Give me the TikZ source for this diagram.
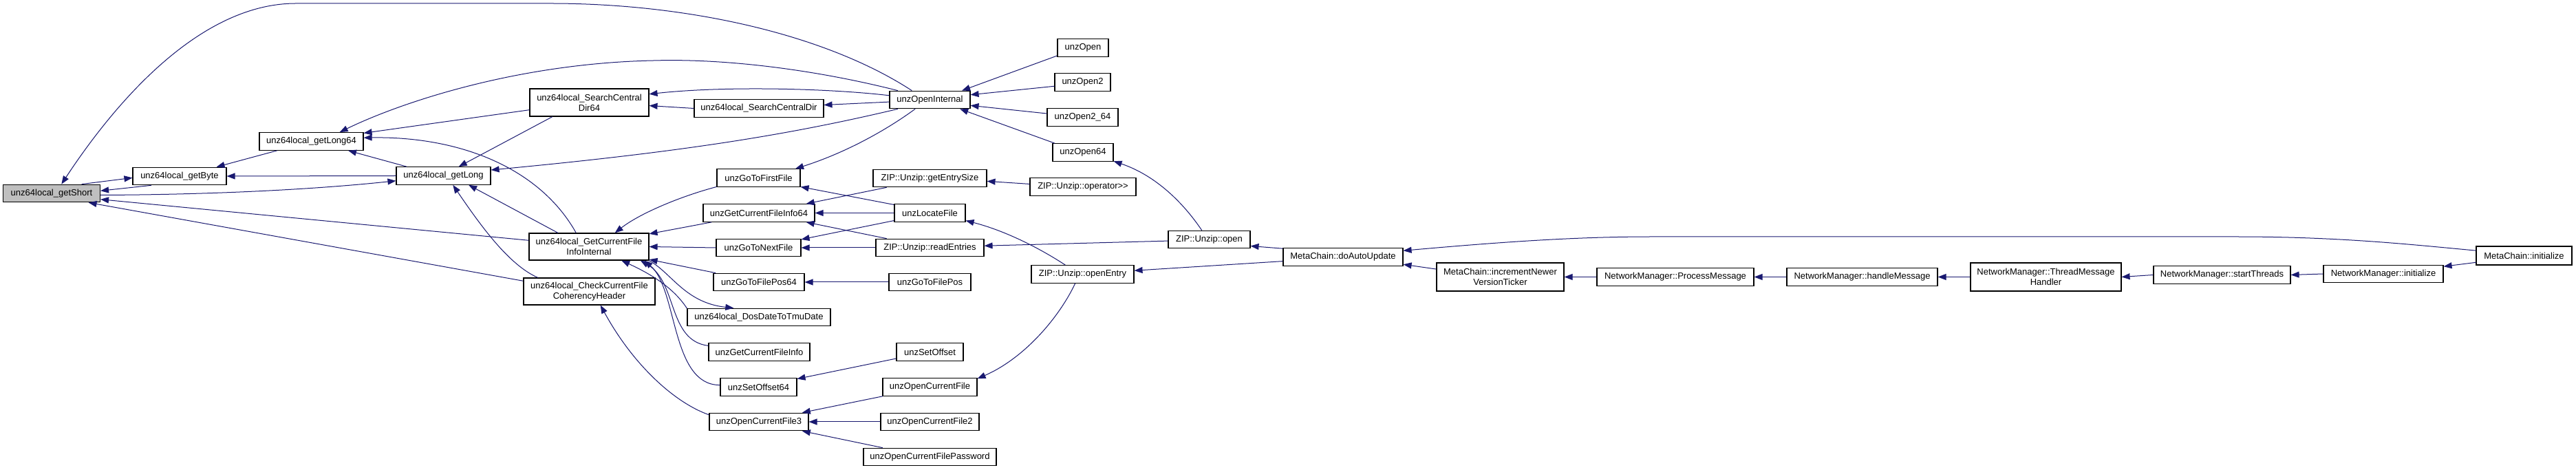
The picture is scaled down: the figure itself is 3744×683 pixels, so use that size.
\documentclass[tikz,border=0pt]{standalone}
\usepackage{fontspec}
\setmainfont{Liberation Sans}
\usepackage{tikz}
\usetikzlibrary{arrows.meta}
\definecolor{edgeblue}{HTML}{191970}
\definecolor{rootgray}{HTML}{BFBFBF}
\tikzset{
  cg/func/.style={draw=black, line width=0.55pt, fill=white, inner sep=1pt, minimum height=12.8pt, align=center, font=\fontsize{6.5}{7.4}\selectfont},
  cg/twoline/.style={cg/func, minimum height=20pt},
  cg/root/.style={cg/func, fill=rootgray},
  cg/call/.style={draw=edgeblue, line width=0.5pt, -{Triangle[length=6pt,width=4.5pt]}}
}
\begin{document}
\begin{tikzpicture}[x=0.5pt, y=-0.5pt]
  \useasboundingbox (0,0) rectangle (3744,683);
  \node[cg/root, minimum width=70.5pt] (gshort) at (75,281) {unz64local\_getShort};
  \node[cg/func, minimum width=68pt] (gbyte) at (261,256) {unz64local\_getByte};
  \node[cg/func, minimum width=75.5pt] (glong64) at (452.5,205.5) {unz64local\_getLong64};
  \node[cg/func, minimum width=68.5pt] (glong) at (644.5,255.5) {unz64local\_getLong};
  \node[cg/twoline, minimum width=86.5pt] (scd64) at (856.5,149) {unz64local\_SearchCentral\\Dir64};
  \node[cg/func, minimum width=94pt] (scd) at (1103,157.5) {unz64local\_SearchCentralDir};
  \node[cg/func, minimum width=58.5pt] (openint) at (1351.5,145) {unzOpenInternal};
  \node[cg/twoline, minimum width=87pt, minimum height=19.5pt] (gcfii) at (856,358.5) {unz64local\_GetCurrentFile\\InfoInternal};
  \node[cg/twoline, minimum width=95.5pt, minimum height=19.5pt] (coh) at (856.5,423.5) {unz64local\_CheckCurrentFile\\CoherencyHeader};
  \node[cg/func, minimum width=60.5pt] (gofirst) at (1102.5,258.5) {unzGoToFirstFile};
  \node[cg/func, minimum width=81pt] (gcfi64) at (1103,309.5) {unzGetCurrentFileInfo64};
  \node[cg/func, minimum width=61.5pt] (gonext) at (1102.5,360) {unzGoToNextFile};
  \node[cg/func, minimum width=66pt] (gopos64) at (1103,410) {unzGoToFilePos64};
  \node[cg/func, minimum width=104pt] (dosdate) at (1103,461) {unz64local\_DosDateToTmuDate};
  \node[cg/func, minimum width=73.5pt] (gcfi) at (1103.5,511.5) {unzGetCurrentFileInfo};
  \node[cg/func, minimum width=55.5pt] (setoff64) at (1102.5,562.5) {unzSetOffset64};
  \node[cg/func, minimum width=72pt] (ocf3) at (1103,613) {unzOpenCurrentFile3};
  \node[cg/func, minimum width=82.5pt] (entrysize) at (1351.5,259) {ZIP::Unzip::getEntrySize};
  \node[cg/func, minimum width=51.5pt] (locate) at (1351.5,309.5) {unzLocateFile};
  \node[cg/func, minimum width=78.5pt] (readent) at (1351.5,360) {ZIP::Unzip::readEntries};
  \node[cg/func, minimum width=59.5pt] (gopos) at (1351.5,410) {unzGoToFilePos};
  \node[cg/func, minimum width=48.5pt] (setoff) at (1351.5,511.5) {unzSetOffset};
  \node[cg/func, minimum width=68.5pt] (ocf) at (1351.5,562.5) {unzOpenCurrentFile};
  \node[cg/func, minimum width=71.5pt] (ocf2) at (1351.5,613) {unzOpenCurrentFile2};
  \node[cg/func, minimum width=96.5pt] (ocfpw) at (1351.5,664) {unzOpenCurrentFilePassword};
  \node[cg/func, minimum width=37pt] (uopen) at (1574,69.5) {unzOpen};
  \node[cg/func, minimum width=40.5pt] (uopen2) at (1573.5,119.5) {unzOpen2};
  \node[cg/func, minimum width=51.5pt] (uopen264) at (1573.5,170.5) {unzOpen2\_64};
  \node[cg/func, minimum width=44pt] (uopen64) at (1574,221.5) {unzOpen64};
  \node[cg/func, minimum width=77pt] (opshift) at (1574,271.5) {ZIP::Unzip::operator>{}>};
  \node[cg/func, minimum width=59.5pt] (uzopen) at (1757.5,348) {ZIP::Unzip::open};
  \node[cg/func, minimum width=74.5pt] (openentry) at (1573.5,398.5) {ZIP::Unzip::openEntry};
  \node[cg/func, minimum width=87pt] (autoupd) at (1952,373.5) {MetaChain::doAutoUpdate};
  \node[cg/twoline, minimum width=92.5pt, minimum height=20.5pt] (incticker) at (2180.5,402.5) {MetaChain::incrementNewer\\VersionTicker};
  \node[cg/func, minimum width=114pt] (procmsg) at (2435,402.5) {NetworkManager::ProcessMessage};
  \node[cg/func, minimum width=109.5pt] (handlemsg) at (2706.5,402.5) {NetworkManager::handleMessage};
  \node[cg/twoline, minimum width=109.5pt, minimum height=20.5pt] (threadhdl) at (2973.5,402.5) {NetworkManager::ThreadMessage\\Handler};
  \node[cg/func, minimum width=99.5pt] (startthr) at (3229.5,399.5) {NetworkManager::startThreads};
  \node[cg/func, minimum width=87pt] (nminit) at (3464,398) {NetworkManager::initialize};
  \node[cg/func, minimum width=69.5pt, minimum height=13.5pt] (mcinit) at (3668.5,371.5) {MetaChain::initialize};

  \draw[cg/call] (openint.153) .. controls (1200,50) and (1000,5) .. (800,5) -- (430,5) .. controls (300,5) and (180,130) .. (gshort.43);
  \draw[cg/call] (gshort.17) -- (gbyte.182);
  \draw[cg/call] (gbyte.198) -- (gshort.3);
  \draw[cg/call] (gshort.-2) .. controls (300,283) and (450,276) .. (glong.186);
  \draw[cg/call] (gcfii.174) -- (gshort.-7);
  \draw[cg/call] (coh.171) -- (gshort.-14);
  \draw[cg/call] (glong64.195) -- (gbyte.14);
  \draw[cg/call] (glong.west) -- (gbyte.east);
  \draw[cg/call] (openint.164) .. controls (1180,100) and (1050,85) .. (950,88) .. controls (750,92) and (580,150) .. (glong64.18);
  \draw[cg/call] (scd64.187) -- (glong64.9);
  \draw[cg/call] (gcfii.133) .. controls (785,245) and (670,198) .. (glong64.4);
  \draw[cg/call] (glong.166) -- (glong64.-14);
  \draw[cg/call] (scd64.201) -- (glong.31);
  \draw[cg/call] (openint.196) .. controls (1150,195) and (1000,220) .. (glong.7);
  \draw[cg/call] (gcfii.156) -- (glong.-20);
  \draw[cg/call] (coh.165) .. controls (740,385) and (700,330) .. (glong.-44);
  \draw[cg/call] (openint.174) .. controls (1200,128) and (1050,125) .. (scd64.8);
  \draw[cg/call] (scd.west) -- (scd64.-3);
  \draw[cg/call] (openint.183) -- (scd.3);
  \draw[cg/call] (uopen.197) -- (openint.16);
  \draw[cg/call] (uopen2.188) -- (openint.7);
  \draw[cg/call] (uopen264.174) -- (openint.-8);
  \draw[cg/call] (uopen64.162) -- (openint.-17);
  \draw[cg/call] (openint.212) .. controls (1280,195) and (1220,225) .. (gofirst.14);
  \draw[cg/call] (gofirst.192) .. controls (990,285) and (930,310) .. (gcfii.28);
  \draw[cg/call] (gcfi64.191) -- (gcfii.12);
  \draw[cg/call] (gonext.west) -- (gcfii.east);
  \draw[cg/call] (gopos64.168) -- (gcfii.-12);
  \draw[cg/call] (gcfii.-13) .. controls (975,395) and (995,440) .. (dosdate.160);
  \draw[cg/call] (dosdate.173) .. controls (980,420) and (950,400) .. (gcfii.-23);
  \draw[cg/call] (gcfi.173) .. controls (970,495) and (985,410) .. (gcfii.-15);
  \draw[cg/call] (setoff64.177) .. controls (975,560) and (985,420) .. (gcfii.-14);
  \draw[cg/call] (setoff.191) -- (setoff64.12);
  \draw[cg/call] (gopos.west) -- (gopos64.east);
  \draw[cg/call] (locate.167) -- (gofirst.-12);
  \draw[cg/call] (entrysize.192) -- (gcfi64.11);
  \draw[cg/call] (locate.west) -- (gcfi64.east);
  \draw[cg/call] (readent.168) -- (gcfi64.-11);
  \draw[cg/call] (locate.192) -- (gonext.11);
  \draw[cg/call] (readent.west) -- (gonext.east);
  \draw[cg/call] (ocf.191) -- (ocf3.12);
  \draw[cg/call] (ocf2.west) -- (ocf3.east);
  \draw[cg/call] (ocfpw.169) -- (ocf3.-12);
  \draw[cg/call] (ocf3.172) .. controls (980,585) and (920,530) .. (coh.-51);
  \draw[cg/call] (openentry.231) .. controls (1540,460) and (1490,520) .. (ocf.10);
  \draw[cg/call] (openentry.152) .. controls (1510,360) and (1460,335) .. (locate.-12);
  \draw[cg/call] (opshift.177) -- (entrysize.-3);
  \draw[cg/call] (uzopen.182) -- (readent.2);
  \draw[cg/call] (uzopen.129) .. controls (1720,295) and (1680,255) .. (uopen64.-16);
  \draw[cg/call] (autoupd.172) -- (uzopen.-9);
  \draw[cg/call] (autoupd.184) -- (openentry.4);
  \draw[cg/call] (mcinit.174) .. controls (3500,355) and (3400,344) .. (3249,344) -- (2402,344) .. controls (2300,344) and (2200,350) .. (autoupd.6);
  \draw[cg/call] (incticker.173) -- (autoupd.-7);
  \draw[cg/call] (procmsg.west) -- (incticker.east);
  \draw[cg/call] (handlemsg.west) -- (procmsg.east);
  \draw[cg/call] (threadhdl.west) -- (handlemsg.east);
  \draw[cg/call] (startthr.west) -- (threadhdl.east);
  \draw[cg/call] (nminit.west) -- (startthr.east);
  \draw[cg/call] (mcinit.188) -- (nminit.7);
\end{tikzpicture}
\end{document}
